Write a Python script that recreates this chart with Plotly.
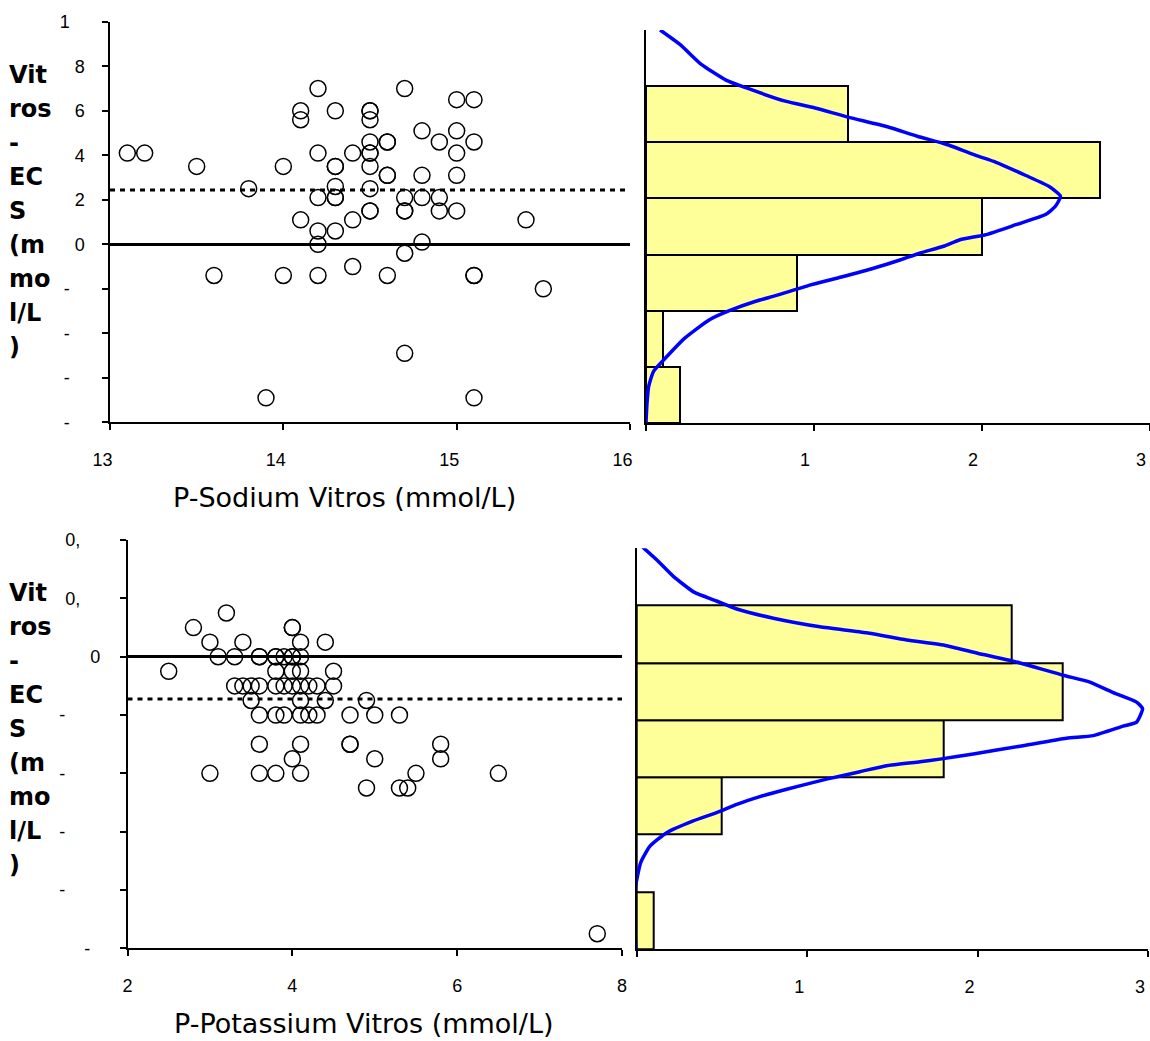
import plotly.graph_objects as go

W, H = 1150, 1041
NB = "\u00a0"

# ---------------- data: top panel (sodium) ----------------
sodium_x = [131, 132, 135, 136, 138, 139, 140, 140,
            141, 141, 141,
            142, 142, 142, 142, 142, 142,
            143, 143, 143, 143, 143, 143, 143,
            144, 144, 144,
            145, 145, 145, 145, 145, 145, 145, 145, 145, 145,
            146, 146, 146, 146, 146,
            147, 147, 147, 147, 147, 147,
            148, 148, 148, 148,
            149, 149, 149,
            150, 150, 150, 150, 150,
            151, 151, 151, 151, 151,
            154, 155]
sodium_diff = [4.1, 4.1, 3.5, -1.4, 2.5, -6.9, 3.5, -1.4,
               6.0, 5.6, 1.1,
               7.0, 4.1, 2.1, 0.6, 0.0, -1.4,
               6.0, 3.5, 3.5, 2.6, 2.1, 2.1, 0.6,
               4.1, 1.1, -1.0,
               6.0, 6.0, 5.6, 4.6, 4.1, 4.1, 3.5, 2.5, 1.5, 1.5,
               4.6, 4.6, 3.1, 3.1, -1.4,
               7.0, 2.1, 1.5, 1.5, -0.4, -4.9,
               5.1, 3.1, 2.1, 0.1,
               4.6, 2.1, 1.5,
               6.5, 5.1, 4.1, 3.1, 1.5,
               6.5, 4.6, -1.4, -1.4, -6.9,
               1.1, -2.0]
sodium_mean_diff = 2.44

sodium_bin_centers = [-6.25, -3.75, -1.25, 1.25, 3.75, 6.25]
sodium_bin_width = 2.5
sodium_bin_counts = [2, 1, 9, 20, 27, 12]

sodium_curve_count = [0.84, 2.02, 3.29, 4.76, 5.94, 8.29, 10.06, 12.02, 14.37, 16.14,
                      17.90, 19.67, 20.84, 22.61, 23.98, 24.67, 24.37, 23.78, 22.02, 20.25,
                      18.69, 17.71, 16.33, 15.16, 13.59, 11.63, 9.86, 7.71, 6.53, 4.96,
                      3.78, 2.31, 1.24, 0.45, 0.16, 0.06, 0.0]
sodium_curve_diff = [10.0, 9.36, 8.47, 7.77, 7.43, 6.83, 6.53, 6.12, 5.69, 5.27,
                     4.90, 4.41, 4.11, 3.52, 3.04, 2.60, 2.15, 1.78, 1.33, 0.89,
                     0.66, 0.37, 0.07, -0.23, -0.60, -1.00, -1.34, -1.83, -2.08, -2.50,
                     -2.90, -3.72, -4.54, -5.20, -5.87, -6.62, -7.48]

# ---------------- data: bottom panel (potassium) ----------------
potassium_x = [2.5, 2.8, 3.0, 3.0, 3.1, 3.2, 3.3, 3.3,
               3.4, 3.4, 3.5, 3.5,
               3.6, 3.6, 3.6, 3.6, 3.6, 3.6,
               3.8, 3.8, 3.8, 3.8, 3.8, 3.8,
               3.9, 3.9, 3.9,
               4.0, 4.0, 4.0, 4.0, 4.0, 4.0, 4.0,
               4.1, 4.1, 4.1, 4.1, 4.1, 4.1, 4.1, 4.1,
               4.2, 4.2, 4.3, 4.3,
               4.4, 4.4, 4.5, 4.5,
               4.7, 4.7, 4.7,
               4.9, 4.9, 5.0, 5.0,
               5.3, 5.3, 5.4, 5.5,
               5.8, 5.8, 6.5, 7.7]
potassium_diff = [-0.05, 0.1, 0.05, -0.4, 0.0, 0.15, 0.0, -0.1,
                  0.05, -0.1, -0.1, -0.15,
                  0.0, 0.0, -0.1, -0.2, -0.3, -0.4,
                  0.0, 0.0, -0.05, -0.1, -0.2, -0.4,
                  0.0, -0.1, -0.2,
                  0.1, 0.1, 0.0, 0.0, -0.05, -0.1, -0.35,
                  0.05, 0.0, -0.05, -0.1, -0.15, -0.2, -0.3, -0.4,
                  -0.1, -0.2, -0.1, -0.2,
                  0.05, -0.15, -0.05, -0.1,
                  -0.2, -0.3, -0.3,
                  -0.15, -0.45, -0.2, -0.35,
                  -0.2, -0.45, -0.45, -0.4,
                  -0.3, -0.35, -0.4, -0.95]
potassium_mean_diff = -0.145

potassium_bin_centers = [-0.9, -0.7, -0.5, -0.3, -0.1, 0.1]
potassium_bin_width = 0.2
potassium_bin_counts = [1, 0, 5, 18, 25, 22]

potassium_curve_count = [0.35, 1.17, 2.15, 3.36, 4.69, 5.87, 8.02, 10.75, 13.49, 15.84,
                         18.18, 20.33, 22.09, 25.02, 26.59, 27.96, 29.33, 29.68, 29.33, 28.54,
                         26.78, 25.22, 22.48, 19.75, 17.79, 16.62, 14.66, 13.10, 11.14, 8.80,
                         7.23, 5.87, 4.69, 3.32, 1.76, 0.78, 0.23, -0.10, -0.16, -0.04]
potassium_curve_diff = [0.404, 0.36, 0.302, 0.247, 0.216, 0.188, 0.156, 0.126, 0.105, 0.080,
                        0.060, 0.029, 0.006, -0.043, -0.067, -0.104, -0.137, -0.160, -0.207, -0.221,
                        -0.254, -0.263, -0.291, -0.318, -0.336, -0.345, -0.359, -0.380, -0.406, -0.441,
                        -0.467, -0.494, -0.523, -0.552, -0.593, -0.640, -0.698, -0.792, -0.874, -0.997]

# ---------------- tick labels (as shown, truncated) ----------------
sodium_xticks = [130, 140, 150, 160]
sodium_xtext = ["13", "14", "15", "16"]
sodium_yticks = [-8, -6, -4, -2, 0, 2, 4, 6, 8, 10]
sodium_ytext = ["-", "-", "-", "-", "0", "2", "4", "6", "8", "1"]
potassium_xticks = [2, 4, 6, 8]
potassium_xtext = ["2", "4", "6", "8"]
potassium_yticks = [-1.0, -0.8, -0.6, -0.4, -0.2, 0, 0.2, 0.4]
potassium_ytext = ["-", "-", "-", "-", "-", "0", "0,", "0,"]
hist_xticks = [0, 10, 20, 30]
hist_xtext = ["", "1", "2", "3"]

y_title_lines = ["Vit", "ros", "-", "EC", "S", "(m", "mo", "l/L", ")"]
x_title_top = "P-Sodium Vitros (mmol/L)"
x_title_bottom = "P-Potassium Vitros (mmol/L)"


def pad(labels, n):
    return [lab + NB * n if lab else lab for lab in labels]


sodium_xtext_d = pad(sodium_xtext, 3)
sodium_ytext_d = [t + NB * 3 if t in ("-", "1") else t for t in sodium_ytext]
potassium_ytext_d = []
for v, t in zip(potassium_yticks, potassium_ytext):
    if t == "0,":
        potassium_ytext_d.append(t + NB * 4)
    elif t == "-":
        potassium_ytext_d.append(t + NB * (2 if v == -1.0 else 7))
    else:
        potassium_ytext_d.append(t)

BAR_COLOR = "#FFFF99"
CURVE_COLOR = "#0000FF"
TICKFONT = dict(family="Liberation Sans, Arial, sans-serif", size=18, color="black")

fig = go.Figure()

marker_style = dict(symbol="circle-open", size=16, color="black", line=dict(width=1.5))

fig.add_trace(go.Scatter(x=sodium_x, y=sodium_diff, mode="markers", marker=marker_style,
                         xaxis="x", yaxis="y", showlegend=False))
fig.add_trace(go.Bar(y=sodium_bin_centers, x=sodium_bin_counts, orientation="h",
                     width=[sodium_bin_width] * len(sodium_bin_centers),
                     marker=dict(color=BAR_COLOR, line=dict(color="black", width=2)),
                     xaxis="x2", yaxis="y2", showlegend=False))
fig.add_trace(go.Scatter(x=sodium_curve_count, y=sodium_curve_diff, mode="lines",
                         line=dict(color=CURVE_COLOR, width=3.5, shape="spline", smoothing=0.5),
                         xaxis="x2", yaxis="y2", showlegend=False))

fig.add_trace(go.Scatter(x=potassium_x, y=potassium_diff, mode="markers", marker=marker_style,
                         xaxis="x3", yaxis="y3", showlegend=False))
fig.add_trace(go.Bar(y=potassium_bin_centers, x=potassium_bin_counts, orientation="h",
                     width=[potassium_bin_width] * len(potassium_bin_centers),
                     marker=dict(color=BAR_COLOR, line=dict(color="black", width=2)),
                     xaxis="x4", yaxis="y4", showlegend=False))
fig.add_trace(go.Scatter(x=potassium_curve_count, y=potassium_curve_diff, mode="lines",
                         line=dict(color=CURVE_COLOR, width=3.5, shape="spline", smoothing=0.5),
                         xaxis="x4", yaxis="y4", showlegend=False))


def fx(p):
    return p / W


def fy(p):
    return 1 - p / H


base_axis = dict(showline=True, linecolor="black", linewidth=1.5, ticks="outside",
                 ticklen=6, tickwidth=1.5, tickcolor="black", showgrid=False,
                 zeroline=False, tickfont=TICKFONT, fixedrange=True, automargin=False,
                 ticklabeloverflow="allow")

fig.update_layout(
    width=W, height=H, margin=dict(l=0, r=0, t=0, b=0, autoexpand=False),
    paper_bgcolor="white", plot_bgcolor="rgba(0,0,0,0)", bargap=0,
    showlegend=False,
    xaxis=dict(base_axis, domain=[fx(110), fx(630)], range=[130, 160], anchor="y",
               tickvals=sodium_xticks, ticktext=sodium_xtext_d, ticklabelstandoff=14),
    yaxis=dict(base_axis, domain=[fy(422.3), fy(21.8)], range=[-8, 10], anchor="x",
               tickvals=sodium_yticks, ticktext=sodium_ytext_d, ticklabelstandoff=14,
               zeroline=True, zerolinecolor="black", zerolinewidth=3),
    xaxis2=dict(base_axis, domain=[fx(646), 1.0], range=[0, 30], anchor="y2",
                tickvals=hist_xticks, ticktext=hist_xtext, ticklabelstandoff=14,
                ticklabelshift=-9),
    yaxis2=dict(base_axis, domain=[fy(423), fy(30)], range=[-7.5, 10], anchor="x2",
                ticks="", showticklabels=False),
    xaxis3=dict(base_axis, domain=[fx(127.5), fx(622)], range=[2, 8], anchor="y3",
                tickvals=potassium_xticks, ticktext=potassium_xtext, ticklabelstandoff=14),
    yaxis3=dict(base_axis, domain=[fy(948.3), fy(540.1)], range=[-1.0, 0.4], anchor="x3",
                tickvals=potassium_yticks, ticktext=potassium_ytext_d, ticklabelstandoff=16,
                zeroline=True, zerolinecolor="black", zerolinewidth=3),
    xaxis4=dict(base_axis, domain=[fx(636.7), fx(1148)], range=[0, 30], anchor="y4",
                tickvals=hist_xticks, ticktext=hist_xtext, ticklabelstandoff=14,
                ticklabelshift=-8),
    yaxis4=dict(base_axis, domain=[fy(949.3), fy(548.3)], range=[-1.0, 0.4], anchor="x4",
                ticks="", showticklabels=False),
)

dot = dict(color="black", width=3, dash="5px,5px")
fig.add_shape(type="line", xref="x domain", yref="y", x0=0, x1=1,
              y0=sodium_mean_diff, y1=sodium_mean_diff, line=dot)
fig.add_shape(type="line", xref="x3 domain", yref="y3", x0=0, x1=1,
              y0=potassium_mean_diff, y1=potassium_mean_diff, line=dot)

TITLE_FONT = dict(family="DejaVu Sans, Verdana, sans-serif", size=27, color="black")
YT_FONT = dict(family="DejaVu Sans, Verdana, sans-serif", size=24, color="black", weight="bold")

fig.add_annotation(text=x_title_top, xref="paper", yref="paper", x=fx(344), y=fy(497),
                   xanchor="center", yanchor="middle", showarrow=False, font=TITLE_FONT)
fig.add_annotation(text=x_title_bottom, xref="paper", yref="paper", x=fx(364), y=fy(1023),
                   xanchor="center", yanchor="middle", showarrow=False, font=TITLE_FONT)

for top in (75, 593):
    for i, line in enumerate(y_title_lines):
        fig.add_annotation(text=line, xref="paper", yref="paper", x=fx(7), y=fy(top + 34 * i),
                           xanchor="left", yanchor="middle", showarrow=False, font=YT_FONT)

fig.write_html("out.html", config={"displayModeBar": False},
               post_script="document.body.style.margin='0px';")
